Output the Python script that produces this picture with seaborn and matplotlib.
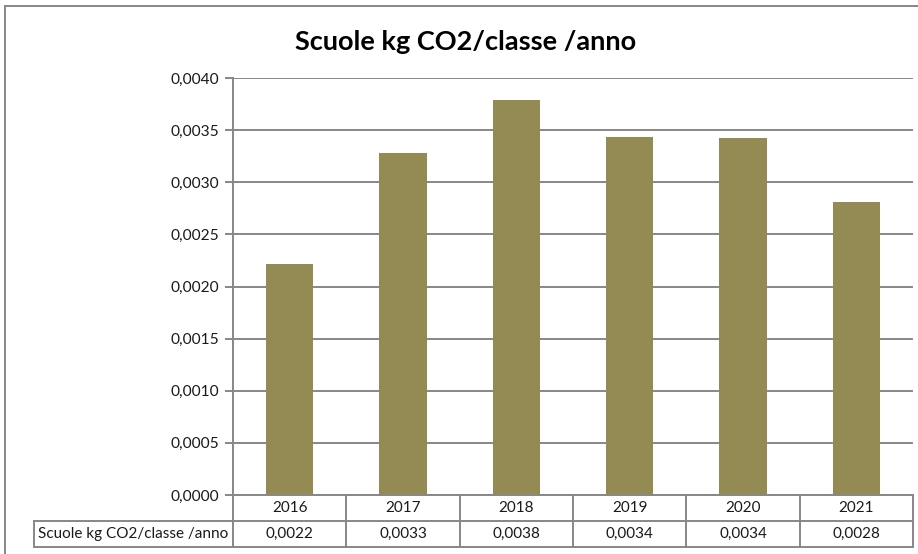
import matplotlib
matplotlib.use("Agg")
import matplotlib.pyplot as plt
from matplotlib.lines import Line2D
from matplotlib.patches import Rectangle
from matplotlib.ticker import MultipleLocator, FuncFormatter
import matplotlib.transforms as mtransforms
import seaborn as sns
import pandas as pd

# Data
years = ["2016", "2017", "2018", "2019", "2020", "2021"]
values = [0.00222, 0.00328, 0.00379, 0.00343, 0.00342, 0.00281]
series_name = "Scuole kg CO2/classe /anno"
title = "Scuole kg CO2/classe /anno"

BAR_COLOR = "#948A54"
GRID_COLOR = "#878787"
FONT = ["Lato", "DejaVu Sans"]

sns.set_theme(style="white")
plt.rcParams["font.family"] = FONT

W, H = 918, 554
fig = plt.figure(figsize=(W / 100, H / 100), dpi=100)


def fx(px):
    return px / W


def fy(py):
    return 1 - py / H


# Plot area (pixel geometry)
left, right, top, zero = 233, 913, 78, 495
ax = fig.add_axes([fx(left), fy(zero), fx(right - left), (zero - top) / H])

df = pd.DataFrame({"anno": years, "valore": values})
sns.barplot(data=df, x="anno", y="valore", color=BAR_COLOR, width=0.42,
            saturation=1, ax=ax, edgecolor="none")

ax.set_ylim(0, 0.004)
ax.set_xlim(-0.5, len(years) - 0.5)
ax.yaxis.set_major_locator(MultipleLocator(0.0005))
ax.yaxis.set_major_formatter(FuncFormatter(lambda v, _: f"{v:.4f}".replace(".", ",")))
ax.set_xlabel("")
ax.set_ylabel("")
ax.set_xticks([])
ax.grid(axis="y", color=GRID_COLOR, linewidth=1.4)
ax.set_axisbelow(True)
for side in ["top", "right"]:
    ax.spines[side].set_visible(False)
ax.spines["left"].set_color(GRID_COLOR)
ax.spines["left"].set_linewidth(1.4)
ax.spines["bottom"].set_color(GRID_COLOR)
ax.spines["bottom"].set_linewidth(1.4)
ax.tick_params(axis="y", direction="out", length=6, width=1.4, color=GRID_COLOR,
               labelsize=11.2, labelcolor="#1a1a1a", pad=4, left=True)

# Title
fig.text(fx(466), fy(42), title, ha="center", va="center", fontsize=19.5,
         fontweight="bold", color="black", family=FONT)

# Data table beneath the axis
tr = mtransforms.blended_transform_factory(ax.transData, fig.transFigure)
row1, row2, row3 = 495, 521, 547
label_left = 34
n = len(years)
line_kw = dict(color=GRID_COLOR, linewidth=1.4)

for k in range(n + 1):
    xk = k - 0.5
    fig.add_artist(Line2D([xk, xk], [fy(row1), fy(row3)], transform=tr, **line_kw))
for yy in (row2, row3):
    fig.add_artist(Line2D([fx(label_left), fx(right)], [fy(yy), fy(yy)],
                          transform=fig.transFigure, **line_kw))
fig.add_artist(Line2D([fx(label_left), fx(label_left)], [fy(row2), fy(row3)],
                      transform=fig.transFigure, **line_kw))

for k, (yr, v) in enumerate(zip(years, values)):
    fig.text(k, fy((row1 + row2) / 2), yr, transform=tr, ha="center", va="center",
             fontsize=11, color="#1a1a1a", family=FONT)
    fig.text(k, fy((row2 + row3) / 2), f"{v:.4f}".replace(".", ","), transform=tr,
             ha="center", va="center", fontsize=11, color="#1a1a1a", family=FONT)
fig.text(fx((label_left + left) / 2), fy((row2 + row3) / 2), series_name,
         ha="center", va="center", fontsize=11, color="#1a1a1a", family=FONT)

# Chart frame
fig.add_artist(Rectangle((fx(5), fy(560)), fx(930), (560 - 6) / H,
                         transform=fig.transFigure, fill=False,
                         edgecolor=GRID_COLOR, linewidth=1.4, clip_on=False))

fig.savefig("out.png", dpi=100, facecolor="white")
